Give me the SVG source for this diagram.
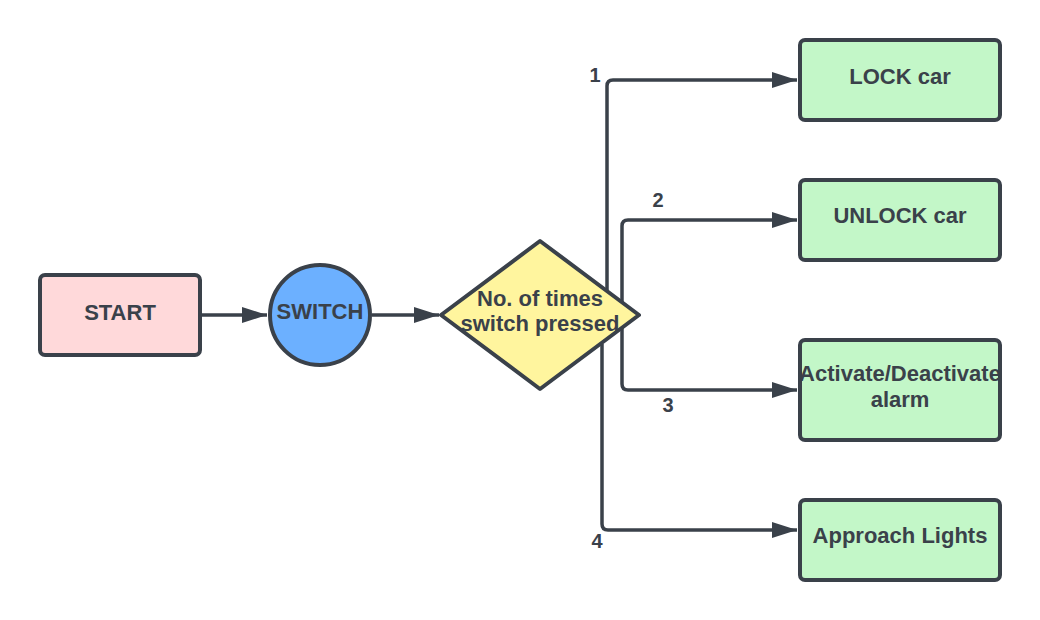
<svg xmlns="http://www.w3.org/2000/svg" width="1040" height="620" viewBox="0 0 1040 620">
<style>
.node{stroke:#3a414a;stroke-width:4;stroke-linejoin:round}
.lbl{font-family:"Liberation Sans",Arial,sans-serif;font-weight:bold;font-size:22px;fill:#3a414a;text-anchor:middle}
.num{font-family:"Liberation Sans",Arial,sans-serif;font-weight:bold;font-size:20px;fill:#3a414a;text-anchor:middle}
.conn{fill:none;stroke:#3a414a;stroke-width:3.5;stroke-linejoin:round}
</style>
<defs>
<marker id="ah" markerUnits="userSpaceOnUse" markerWidth="26" markerHeight="18" refX="25" refY="8" orient="auto">
<path d="M0,0 L25,8 L0,16 Z" fill="#3a414a"/>
</marker>
</defs>
<rect width="1040" height="620" fill="#ffffff"/>
<g id="connectors">
<path class="conn" d="M202,315 H267" marker-end="url(#ah)"/>
<path class="conn" d="M372,315 H439" marker-end="url(#ah)"/>
<path class="conn" d="M607,290 V86 Q607,80 613,80 H797" marker-end="url(#ah)"/>
<path class="conn" d="M622,302 V226 Q622,220 628,220 H797" marker-end="url(#ah)"/>
<path class="conn" d="M622,328 V384 Q622,390 628,390 H797" marker-end="url(#ah)"/>
<path class="conn" d="M602,344 V524 Q602,530 608,530 H797" marker-end="url(#ah)"/>
<text class="num" x="595" y="82">1</text>
<text class="num" x="658" y="207">2</text>
<text class="num" x="668" y="412">3</text>
<text class="num" x="597" y="548">4</text>
</g>
<g id="start">
<rect class="node" x="40" y="275" width="160" height="80" rx="5" fill="#ffd9da"/>
<text class="lbl" x="120" y="320">START</text>
</g>
<g id="switch">
<circle class="node" cx="320" cy="315" r="50" fill="#6cb0ff"/>
<text class="lbl" x="320" y="319">SWITCH</text>
</g>
<g id="decision">
<path class="node" d="M540,241 L639,315 L540,389 L441,315 Z" fill="#fff59e"/>
<text class="lbl" x="540" y="306">No. of times</text>
<text class="lbl" x="540" y="331">switch pressed</text>
</g>
<g id="lock">
<rect class="node" x="800" y="40" width="200" height="80" rx="5" fill="#c3f7c8"/>
<text class="lbl" x="900" y="84">LOCK car</text>
</g>
<g id="unlock">
<rect class="node" x="800" y="180" width="200" height="80" rx="5" fill="#c3f7c8"/>
<text class="lbl" x="900" y="223">UNLOCK car</text>
</g>
<g id="alarm">
<rect class="node" x="800" y="340" width="200" height="100" rx="5" fill="#c3f7c8"/>
<text class="lbl" x="900" y="381">Activate/Deactivate</text>
<text class="lbl" x="900" y="407">alarm</text>
</g>
<g id="lights">
<rect class="node" x="800" y="500" width="200" height="80" rx="5" fill="#c3f7c8"/>
<text class="lbl" x="900" y="543">Approach Lights</text>
</g>
</svg>
